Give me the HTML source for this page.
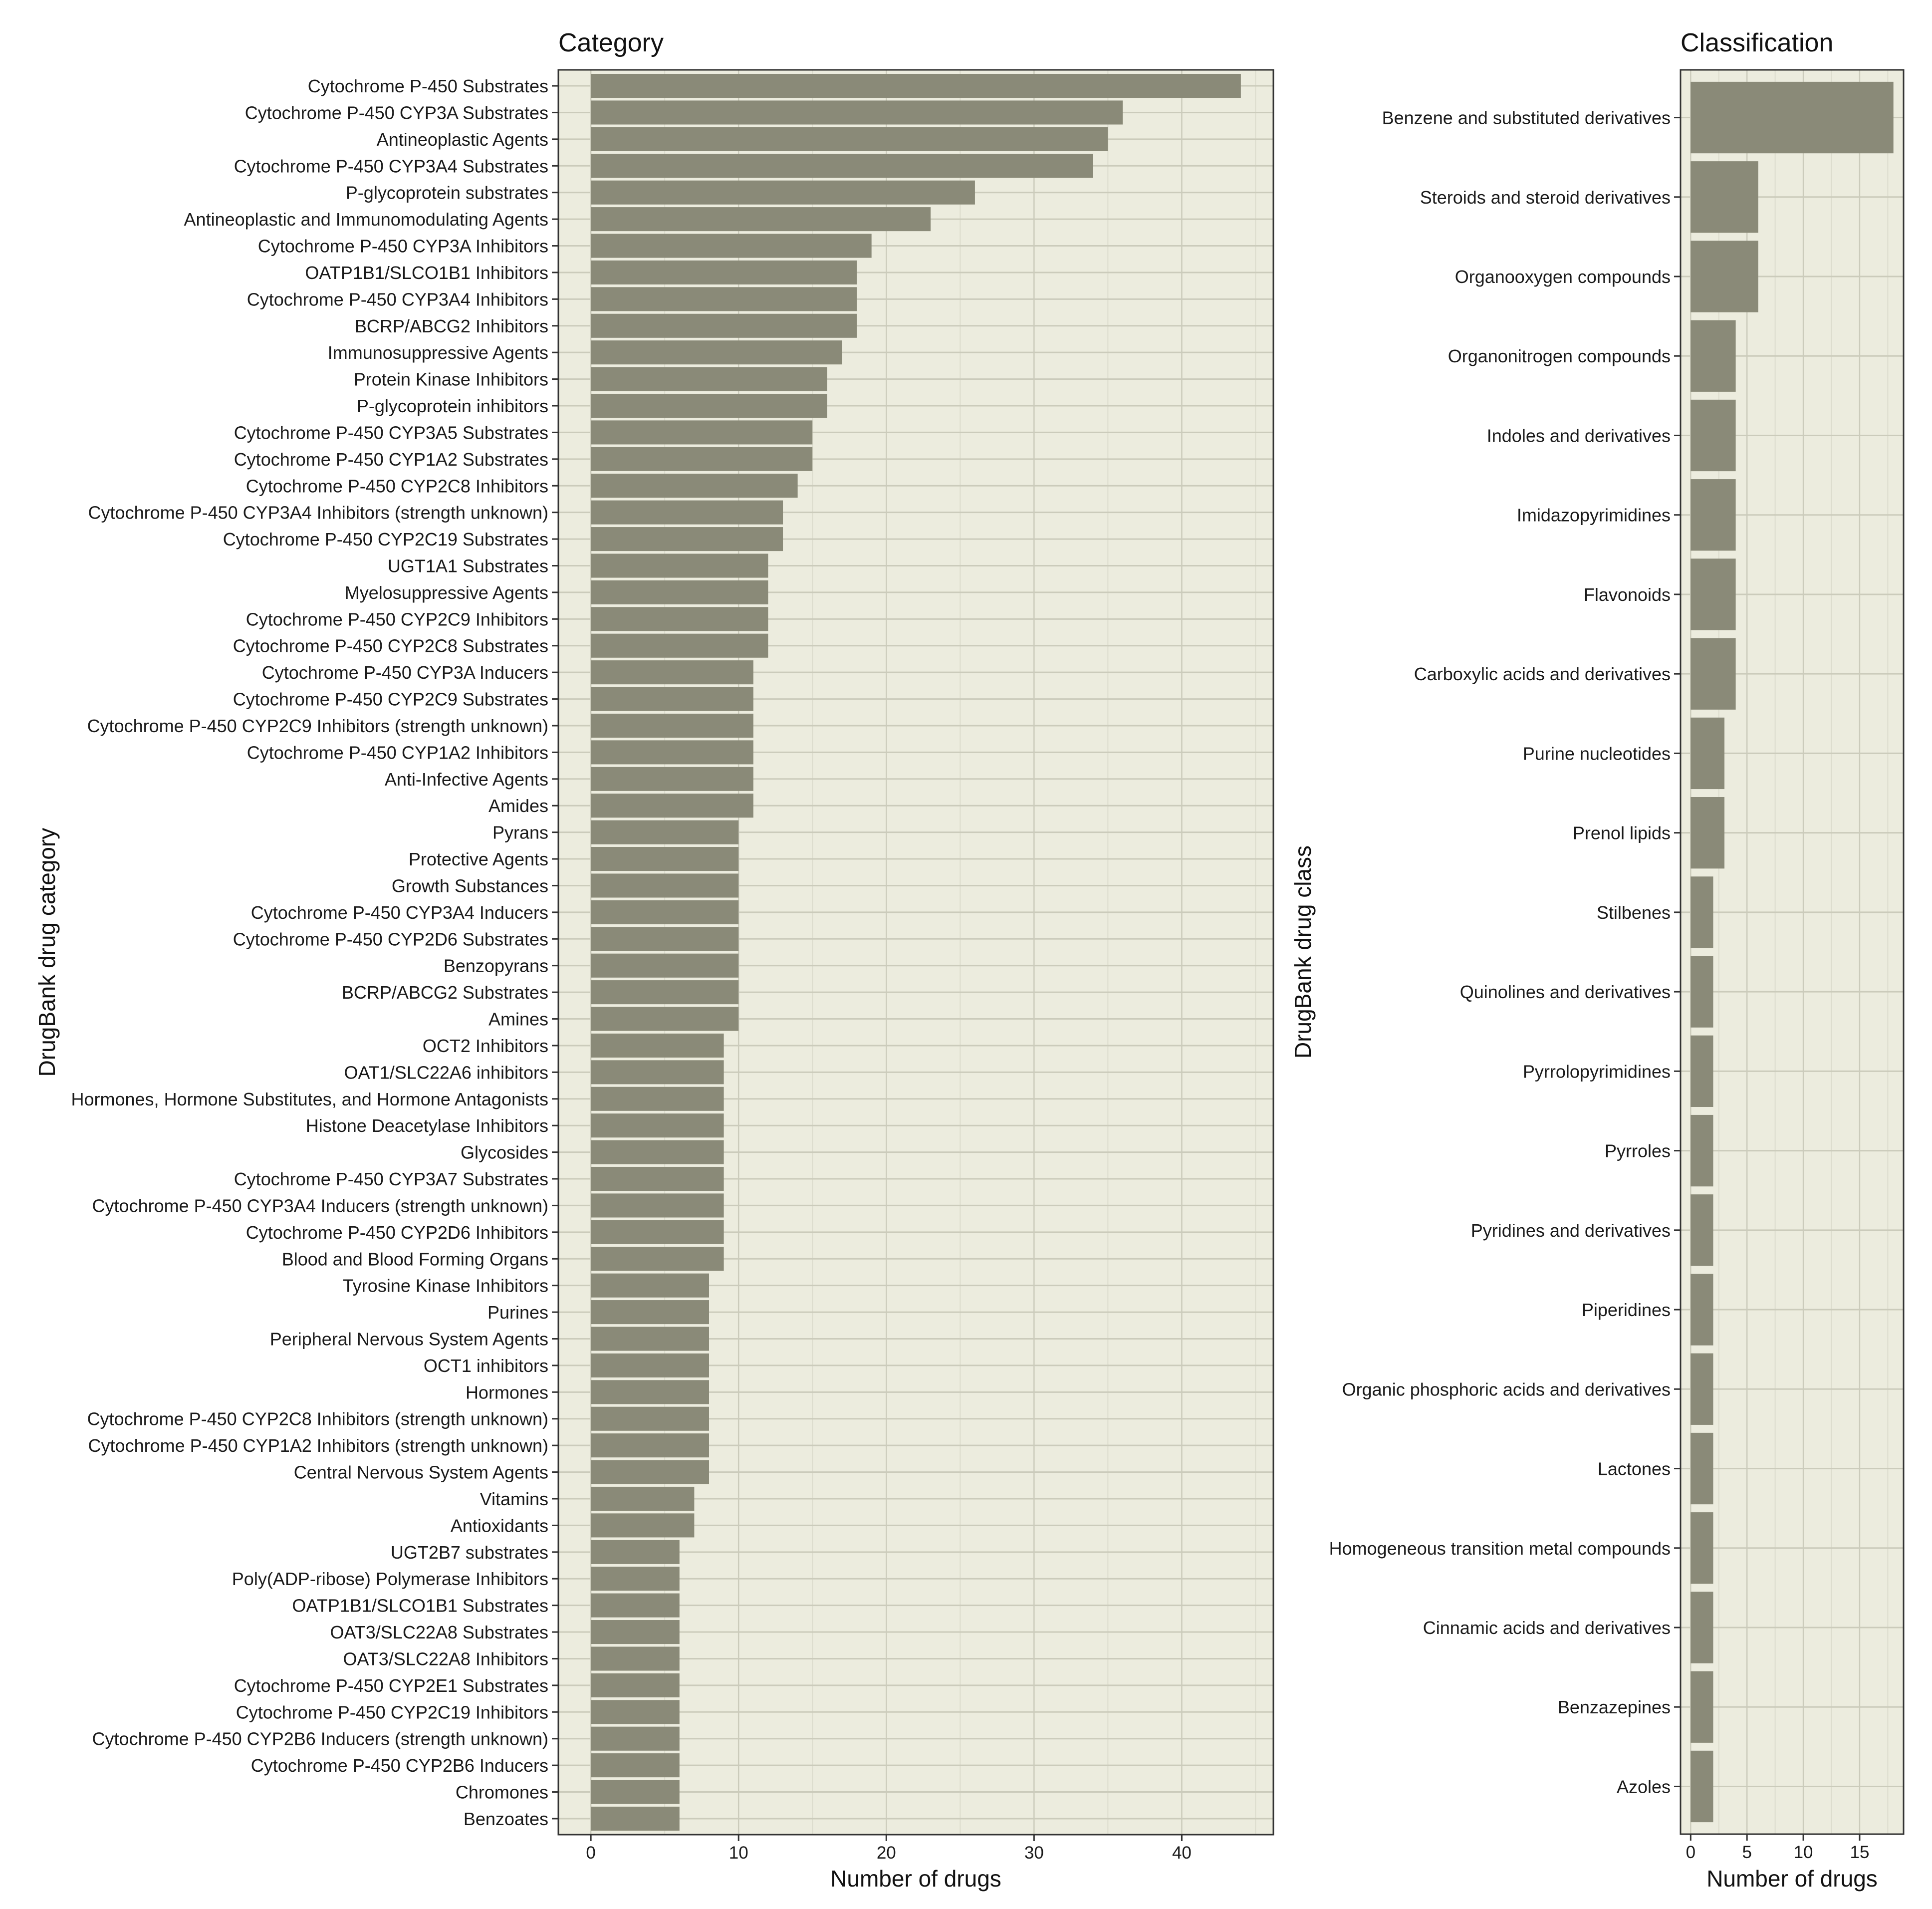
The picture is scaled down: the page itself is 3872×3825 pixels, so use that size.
<!DOCTYPE html>
<html><head><meta charset="utf-8"><style>
html,body{margin:0;padding:0;background:#fff;}
svg{display:block;font-family:"Liberation Sans",Arial,sans-serif;}
</style></head><body>
<svg id="chart" width="3872" height="3825" viewBox="0 0 3872 3825" xmlns="http://www.w3.org/2000/svg"></svg>
<script>
const catLabels = ["Cytochrome P-450 Substrates","Cytochrome P-450 CYP3A Substrates","Antineoplastic Agents","Cytochrome P-450 CYP3A4 Substrates","P-glycoprotein substrates","Antineoplastic and Immunomodulating Agents","Cytochrome P-450 CYP3A Inhibitors","OATP1B1/SLCO1B1 Inhibitors","Cytochrome P-450 CYP3A4 Inhibitors","BCRP/ABCG2 Inhibitors","Immunosuppressive Agents","Protein Kinase Inhibitors","P-glycoprotein inhibitors","Cytochrome P-450 CYP3A5 Substrates","Cytochrome P-450 CYP1A2 Substrates","Cytochrome P-450 CYP2C8 Inhibitors","Cytochrome P-450 CYP3A4 Inhibitors (strength unknown)","Cytochrome P-450 CYP2C19 Substrates","UGT1A1 Substrates","Myelosuppressive Agents","Cytochrome P-450 CYP2C9 Inhibitors","Cytochrome P-450 CYP2C8 Substrates","Cytochrome P-450 CYP3A Inducers","Cytochrome P-450 CYP2C9 Substrates","Cytochrome P-450 CYP2C9 Inhibitors (strength unknown)","Cytochrome P-450 CYP1A2 Inhibitors","Anti-Infective Agents","Amides","Pyrans","Protective Agents","Growth Substances","Cytochrome P-450 CYP3A4 Inducers","Cytochrome P-450 CYP2D6 Substrates","Benzopyrans","BCRP/ABCG2 Substrates","Amines","OCT2 Inhibitors","OAT1/SLC22A6 inhibitors","Hormones, Hormone Substitutes, and Hormone Antagonists","Histone Deacetylase Inhibitors","Glycosides","Cytochrome P-450 CYP3A7 Substrates","Cytochrome P-450 CYP3A4 Inducers (strength unknown)","Cytochrome P-450 CYP2D6 Inhibitors","Blood and Blood Forming Organs","Tyrosine Kinase Inhibitors","Purines","Peripheral Nervous System Agents","OCT1 inhibitors","Hormones","Cytochrome P-450 CYP2C8 Inhibitors (strength unknown)","Cytochrome P-450 CYP1A2 Inhibitors (strength unknown)","Central Nervous System Agents","Vitamins","Antioxidants","UGT2B7 substrates","Poly(ADP-ribose) Polymerase Inhibitors","OATP1B1/SLCO1B1 Substrates","OAT3/SLC22A8 Substrates","OAT3/SLC22A8 Inhibitors","Cytochrome P-450 CYP2E1 Substrates","Cytochrome P-450 CYP2C19 Inhibitors","Cytochrome P-450 CYP2B6 Inducers (strength unknown)","Cytochrome P-450 CYP2B6 Inducers","Chromones","Benzoates"];
const catValues = [44,36,35,34,26,23,19,18,18,18,17,16,16,15,15,14,13,13,12,12,12,12,11,11,11,11,11,11,10,10,10,10,10,10,10,10,9,9,9,9,9,9,9,9,9,8,8,8,8,8,8,8,8,7,7,6,6,6,6,6,6,6,6,6,6,6];
const catTicks = [0,10,20,30,40];
const catMinor = [5,15,25,35,45];
const clsLabels = ["Benzene and substituted derivatives","Steroids and steroid derivatives","Organooxygen compounds","Organonitrogen compounds","Indoles and derivatives","Imidazopyrimidines","Flavonoids","Carboxylic acids and derivatives","Purine nucleotides","Prenol lipids","Stilbenes","Quinolines and derivatives","Pyrrolopyrimidines","Pyrroles","Pyridines and derivatives","Piperidines","Organic phosphoric acids and derivatives","Lactones","Homogeneous transition metal compounds","Cinnamic acids and derivatives","Benzazepines","Azoles"];
const clsValues = [18,6,6,4,4,4,4,4,3,3,2,2,2,2,2,2,2,2,2,2,2,2];
const clsTicks = [0,5,10,15];
const clsMinor = [2.5,7.5,12.5,17.5];

const NS="http://www.w3.org/2000/svg";
const svg=document.getElementById('chart');
function mk(tag,attrs,parent,txt){const e=document.createElementNS(NS,tag);for(const k in attrs)e.setAttribute(k,attrs[k]);if(txt!==undefined)e.textContent=txt;(parent||svg).appendChild(e);return e;}

function panel(o){
  const g=mk('g',{});
  
  
  const {L,R,T,B}=o;
  const maxV=Math.max(...o.values);
  const lo=-0.05*maxV, hi=maxV*1.05;
  const x=v=>L+(v-lo)/(hi-lo)*(R-L);
  const n=o.labels.length;
  const step=(B-T)/(n-1+1.2);
  const y=i=>T+step*(0.6+i);
  const bg=mk('rect',{x:L,y:T,width:R-L,height:B-T,fill:'#ECECDE'},g);
  
  
  o.minor.forEach(v=>{if(x(v)<R){const l=mk('line',{x1:x(v),x2:x(v),y1:T,y2:B,stroke:'#DCDCCD','stroke-width':2},g);
    }});
  o.ticks.forEach(v=>{const l=mk('line',{x1:x(v),x2:x(v),y1:T,y2:B,stroke:'#CBCBBB','stroke-width':2.5},g);
    });
  for(let i=0;i<n;i++){const l=mk('line',{x1:L,x2:R,y1:y(i),y2:y(i),stroke:'#CBCBBB','stroke-width':3},g);
    }
  const bh=step*0.9;
  o.values.forEach((v,i)=>{
    const r=mk('rect',{x:x(0),y:y(i)-bh/2,width:x(v)-x(0),height:bh,fill:'#8A8A78'},g);
    
    
  });
  const border=mk('rect',{x:L,y:T,width:R-L,height:B-T,fill:'none',stroke:'#333','stroke-width':3},g);
  
  
  o.labels.forEach((s,i)=>{
    const tk=mk('line',{x1:L-13,x2:L,y1:y(i),y2:y(i),stroke:'#333','stroke-width':3},g);
    
    const t=mk('text',{x:L-20,y:y(i)+13,'text-anchor':'end','font-size':36,fill:'#1a1a1a'},g,s);
    
  });
  o.ticks.forEach(v=>{
    const tk=mk('line',{x1:x(v),x2:x(v),y1:B,y2:B+13,stroke:'#333','stroke-width':3},g);
    
    const t=mk('text',{x:x(v),y:B+48,'text-anchor':'middle','font-size':35,fill:'#1a1a1a'},g,String(v));
    
  });
  const xt=mk('text',{x:(L+R)/2,y:3780,'text-anchor':'middle','font-size':46,fill:'#111'},g,'Number of drugs');
  
  const yt=mk('text',{x:0,y:0,'text-anchor':'middle','font-size':46,fill:'#111',transform:`translate(${o.ytx},${(T+B)/2}) rotate(-90)`},g,o.ytitle);
  
  const tt=mk('text',{x:L,y:103,'font-size':52,fill:'#111'},g,o.title);
  
}
panel({name:'category',L:1119,R:2552,T:140,B:3676,labels:catLabels,values:catValues,ticks:catTicks,minor:catMinor,title:'Category',ytitle:'DrugBank drug category',ytx:110});
panel({name:'classification',L:3368,R:3815,T:140,B:3675,labels:clsLabels,values:clsValues,ticks:clsTicks,minor:clsMinor,title:'Classification',ytitle:'DrugBank drug class',ytx:2627});
</script>
</body></html>
